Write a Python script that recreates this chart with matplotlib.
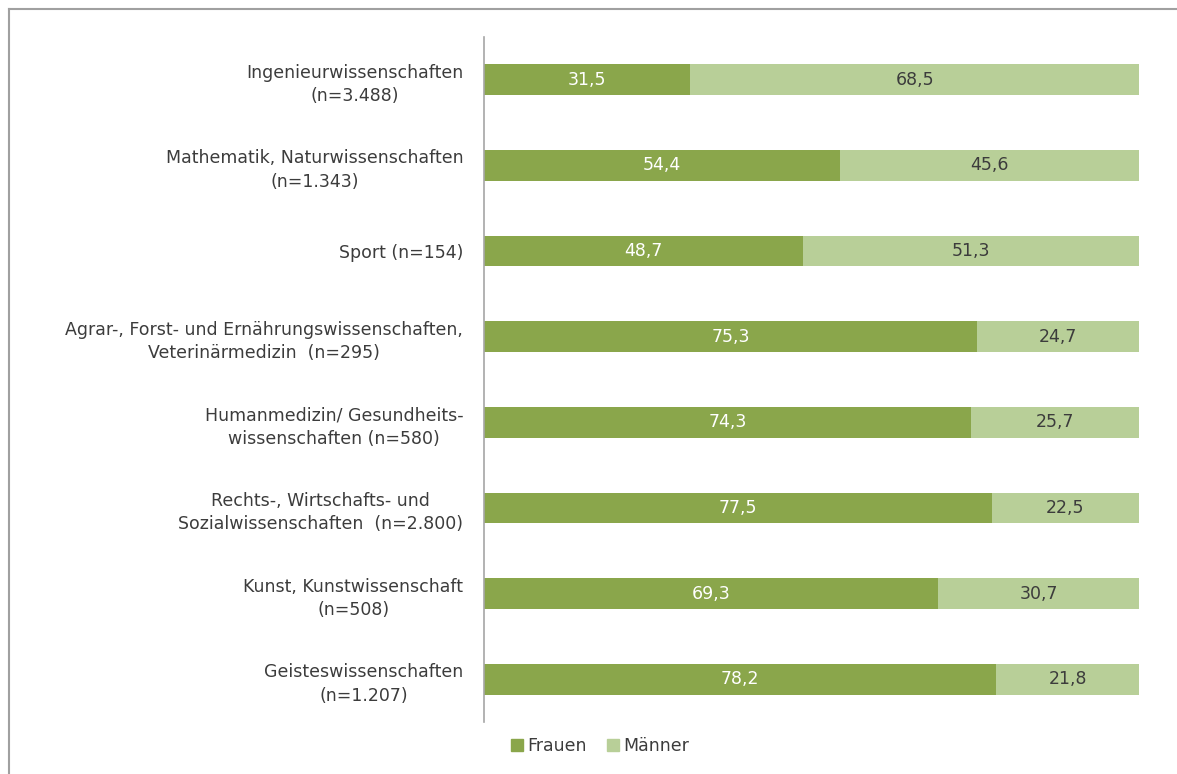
import numpy as np
import matplotlib.pyplot as plt
from matplotlib.lines import Line2D

plt.rcParams['font.family'] = ['DejaVu Sans']

categories = [
    'Ingenieurwissenschaften\n(n=3.488)',
    'Mathematik, Naturwissenschaften\n(n=1.343)',
    'Sport (n=154)',
    'Agrar-, Forst- und Ernährungswissenschaften,\nVeterinärmedizin  (n=295)',
    'Humanmedizin/ Gesundheits-\nwissenschaften (n=580)',
    'Rechts-, Wirtschafts- und\nSozialwissenschaften  (n=2.800)',
    'Kunst, Kunstwissenschaft\n(n=508)',
    'Geisteswissenschaften\n(n=1.207)',
]
frauen = [31.5, 54.4, 48.7, 75.3, 74.3, 77.5, 69.3, 78.2]
maenner = [68.5, 45.6, 51.3, 24.7, 25.7, 22.5, 30.7, 21.8]
series_names = ['Frauen', 'Männer']

c_f = '#8aa64b'
c_m = '#b8cf98'
txt = '#3c3c3c'
fs = 12.5

fig = plt.figure(figsize=(11.77, 7.74), dpi=100)
ax = fig.add_axes([484 / 1177, 1 - 722 / 774, (1139 - 484) / 1177, 685 / 774])

y = np.arange(len(categories))
ax.barh(y, frauen, height=0.36, color=c_f)
ax.barh(y, maenner, left=frauen, height=0.36, color=c_m)

def fmt(v):
    return f'{v:.1f}'.replace('.', ',')

for i in range(len(categories)):
    ax.text(frauen[i] / 2, y[i], fmt(frauen[i]), ha='center', va='center',
            color='white', fontsize=fs)
    ax.text(frauen[i] + maenner[i] / 2, y[i], fmt(maenner[i]), ha='center',
            va='center', color=txt, fontsize=fs)

ax.set_xlim(0, 100)
ax.set_ylim(len(categories) - 0.5, -0.5)
ax.set_xticks([])
ax.set_yticks(y)
ax.set_yticklabels(categories, fontsize=fs, color=txt, ha='right',
                   multialignment='center', linespacing=1.38)
ax.tick_params(axis='y', length=0, pad=15)
for s in ['top', 'right', 'bottom']:
    ax.spines[s].set_visible(False)
ax.spines['left'].set_color('#a6a6a6')
ax.spines['left'].set_linewidth(1.2)

handles = [plt.Rectangle((0, 0), 1, 1, color=c_f), plt.Rectangle((0, 0), 1, 1, color=c_m)]
fig.legend(handles, series_names, loc='center', bbox_to_anchor=(600 / 1177, 1 - 746 / 774),
           ncol=2, frameon=False, fontsize=fs, handlelength=0.7, handleheight=0.7,
           handletextpad=0.2, columnspacing=1.2, labelcolor=txt)

# outer frame
fig.add_artist(Line2D([9 / 1177, 1], [1 - 9 / 774, 1 - 9 / 774], transform=fig.transFigure,
                      color='#a0a0a0', lw=1.5))
fig.add_artist(Line2D([9 / 1177, 9 / 1177], [0, 1 - 9 / 774], transform=fig.transFigure,
                      color='#a0a0a0', lw=1.5))

fig.savefig('out.png', dpi=100)
